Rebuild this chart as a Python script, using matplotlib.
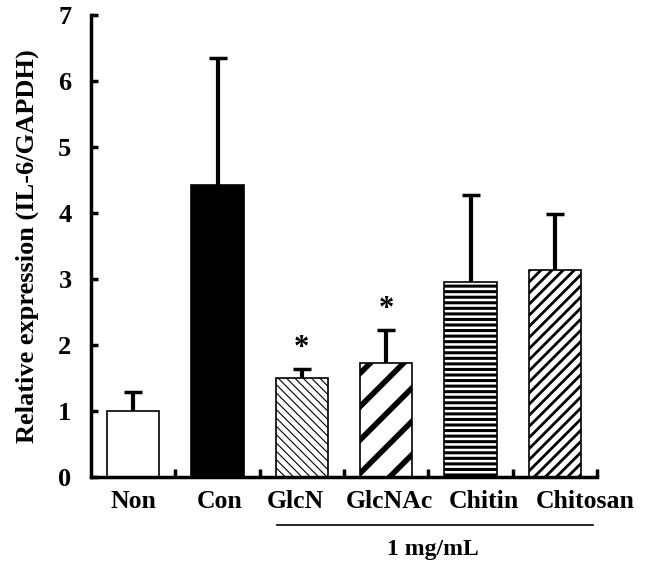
import matplotlib.pyplot as plt
import matplotlib.transforms as mtransforms
import numpy as np

categories = ["Non", "Con", "GlcN", "GlcNAc", "Chitin", "Chitosan"]
means = [1.00, 4.42, 1.50, 1.72, 2.96, 3.13]
errors = [0.29, 1.93, 0.13, 0.50, 1.32, 0.85]
significant = [False, False, True, True, False, False]

plt.rcParams['font.family'] = ['Liberation Serif', 'DejaVu Serif']
plt.rcParams['font.weight'] = 'bold'

fig = plt.figure(figsize=(6.46, 5.69), dpi=100)
ax = fig.add_axes([91 / 646, 92 / 569, 506 / 646, 462 / 569])

x = np.arange(len(categories))
faces = ['white', 'black', 'white', 'white', 'white', 'white']
hatches = [None, None, '\\\\\\\\', '/', '---', '///']
hatch_lw = [1, 1, 0.8, 4.0, 2.2, 2.0]

bars = ax.bar(x, means, width=0.62, color=faces, edgecolor='black', linewidth=1.2, zorder=2)
for b, h, lw in zip(bars, hatches, hatch_lw):
    if h:
        b.set_hatch(h)
        try:
            b.set_hatch_linewidth(lw)
        except AttributeError:
            pass

# only the upper half of the error bar
eb = ax.errorbar(x, means, yerr=[np.zeros(len(errors)), errors], fmt='none',
                 ecolor='black', elinewidth=3, capsize=6.5, capthick=2.5, zorder=1)
eb[1][0].set_visible(False)

for xi, m, e, s in zip(x, means, errors, significant):
    if s:
        ax.text(xi, m + e + 0.1, '*', ha='center', va='bottom', fontsize=22, fontweight='bold')

ax.set_xlim(-0.5, 5.5)
ax.set_ylim(0, 7)
ax.set_yticks(range(0, 8))
ax.tick_params(axis='y', direction='in', length=5, width=2.5, labelsize=19, pad=14)
ax.set_xticks(x + 0.5)
ax.set_xticklabels([])
ax.tick_params(axis='x', direction='in', length=6, width=2.5)

# labels in the original are spread out by text width, not centred on bars
label_shift = [0.0, 0.02, -0.08, 0.04, 0.16, 0.36]
for xi, dx, c in zip(x, label_shift, categories):
    ax.text(xi + dx, -0.2, c, ha='center', va='top', fontsize=18.5, fontweight='bold')

for side in ['top', 'right']:
    ax.spines[side].set_visible(False)
for side in ['left', 'bottom']:
    ax.spines[side].set_linewidth(2.5)

ax.set_ylabel('Relative expression (IL-6/GAPDH)', fontsize=19, fontweight='bold', labelpad=14)

trans = mtransforms.blended_transform_factory(ax.transData, fig.transFigure)
ax.plot([1.71, 5.45], [1 - 525 / 569] * 2, color='black', lw=1.2, transform=trans, clip_on=False)
ax.text(3.55, 1 - 550 / 569, '1 mg/mL', ha='center', va='center', fontsize=17,
        fontweight='bold', transform=trans)

fig.savefig('out.png', dpi=100)
